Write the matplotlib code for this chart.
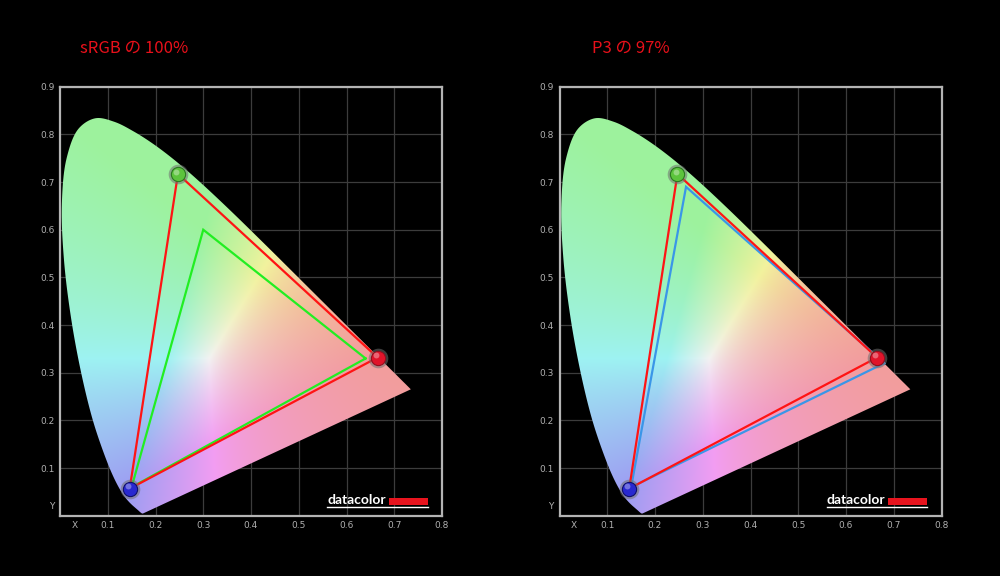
import numpy as np
import matplotlib
matplotlib.use('Agg')
import matplotlib.pyplot as plt
from matplotlib.patches import Polygon, Rectangle

plt.rcParams['font.family'] = ['Noto Sans CJK JP', 'DejaVu Sans']

# CIE 1931 2-degree spectral locus, 380-700 nm in 5 nm steps
locus_x = [0.1741, 0.1740, 0.1738, 0.1736, 0.1733, 0.1730, 0.1726, 0.1721, 0.1714, 0.1703,
           0.1689, 0.1669, 0.1644, 0.1611, 0.1566, 0.1510, 0.1440, 0.1355, 0.1241, 0.1096,
           0.0913, 0.0687, 0.0454, 0.0235, 0.0082, 0.0039, 0.0139, 0.0389, 0.0743, 0.1142,
           0.1547, 0.1929, 0.2296, 0.2658, 0.3016, 0.3373, 0.3731, 0.4087, 0.4441, 0.4788,
           0.5125, 0.5448, 0.5752, 0.6029, 0.6270, 0.6482, 0.6658, 0.6801, 0.6915, 0.7006,
           0.7079, 0.7140, 0.7190, 0.7230, 0.7260, 0.7283, 0.7300, 0.7311, 0.7320, 0.7327,
           0.7334, 0.7340, 0.7344, 0.7346, 0.7347]
locus_y = [0.0050, 0.0050, 0.0049, 0.0049, 0.0048, 0.0048, 0.0048, 0.0048, 0.0051, 0.0058,
           0.0069, 0.0086, 0.0109, 0.0138, 0.0177, 0.0227, 0.0297, 0.0399, 0.0578, 0.0868,
           0.1327, 0.2007, 0.2950, 0.4127, 0.5384, 0.6548, 0.7502, 0.8120, 0.8338, 0.8262,
           0.8059, 0.7816, 0.7543, 0.7243, 0.6923, 0.6589, 0.6245, 0.5896, 0.5547, 0.5202,
           0.4866, 0.4544, 0.4242, 0.3965, 0.3725, 0.3514, 0.3340, 0.3197, 0.3083, 0.2993,
           0.2920, 0.2859, 0.2809, 0.2770, 0.2740, 0.2717, 0.2700, 0.2689, 0.2680, 0.2673,
           0.2666, 0.2660, 0.2656, 0.2654, 0.2653]

# measured display gamut (R, G, B)
meas_x = [0.665, 0.247, 0.146]
meas_y = [0.332, 0.717, 0.057]
# reference gamuts (R, G, B)
srgb_x = [0.640, 0.300, 0.150]
srgb_y = [0.330, 0.600, 0.060]
p3_x = [0.680, 0.265, 0.150]
p3_y = [0.320, 0.690, 0.060]

titles = ['sRGB の 100%', 'P3 の 97%']
x_ticks = [0.1, 0.2, 0.3, 0.4, 0.5, 0.6, 0.7, 0.8]
x_labels = ['0.1', '0.2', '0.3', '0.4', '0.5', '0.6', '0.7', '0.8']
y_ticks = [0.1, 0.2, 0.3, 0.4, 0.5, 0.6, 0.7, 0.8, 0.9]
y_labels = ['0.1', '0.2', '0.3', '0.4', '0.5', '0.6', '0.7', '0.8', '0.9']


def smooth_outline(xs, ys, n=12, alpha=0.5):
    """Centripetal Catmull-Rom through the locus points (outline shape only)."""
    P = np.column_stack([xs, ys])
    P = np.vstack([2 * P[0] - P[1], P, 2 * P[-1] - P[-2]])
    out = []
    for i in range(1, len(P) - 2):
        p0, p1, p2, p3 = P[i - 1], P[i], P[i + 1], P[i + 2]
        t0 = 0.0
        t1 = t0 + max(np.linalg.norm(p1 - p0), 1e-6) ** alpha
        t2 = t1 + max(np.linalg.norm(p2 - p1), 1e-6) ** alpha
        t3 = t2 + max(np.linalg.norm(p3 - p2), 1e-6) ** alpha
        t = np.linspace(t1, t2, n, endpoint=False)[:, None]
        a1 = (t1 - t) / (t1 - t0) * p0 + (t - t0) / (t1 - t0) * p1
        a2 = (t2 - t) / (t2 - t1) * p1 + (t - t1) / (t2 - t1) * p2
        a3 = (t3 - t) / (t3 - t2) * p2 + (t - t2) / (t3 - t2) * p3
        b1 = (t2 - t) / (t2 - t0) * a1 + (t - t0) / (t2 - t0) * a2
        b2 = (t3 - t) / (t3 - t1) * a2 + (t - t1) / (t3 - t1) * a3
        c = (t2 - t) / (t2 - t1) * b1 + (t - t1) / (t2 - t1) * b2
        out.append(c)
    out.append(P[-2][None, :])
    return np.vstack(out)


def chroma_image(n=500, w=0.38, bright=0.95):
    xs = np.linspace(0, 0.8, n)
    ys = np.linspace(0.001, 0.9, n)
    X, Y = np.meshgrid(xs, ys)
    Xc = X / Y
    Zc = (1 - X - Y) / Y
    M = np.array([[3.2406, -1.5372, -0.4986],
                  [-0.9689, 1.8758, 0.0415],
                  [0.0557, -0.2040, 1.0570]])
    xyz = np.stack([Xc, np.ones_like(Xc), Zc], -1)
    rgb = xyz @ M.T
    rgb = np.clip(rgb, 0, None)
    rgb /= rgb.max(-1, keepdims=True) + 1e-9
    rgb = w + (1 - w) * rgb
    rgb = np.where(rgb <= 0.0031308, 12.92 * rgb, 1.055 * rgb ** (1 / 2.4) - 0.055)
    rgb = rgb * bright
    return np.clip(rgb, 0, 1)


def marker(ax, x, y, color, dark):
    ax.scatter([x], [y], s=200, color='#707070', alpha=0.55, zorder=6, linewidths=0)
    ax.scatter([x], [y], s=105, color=color, edgecolors=dark, linewidths=0.8, zorder=7)
    ax.scatter([x - 0.004], [y + 0.005], s=18, color='white', alpha=0.35, zorder=8, linewidths=0)


fig = plt.figure(figsize=(10, 5.76), dpi=100, facecolor='black')
img = chroma_image()
outline = smooth_outline(locus_x, locus_y)
axes_lefts = [0.060, 0.5595]
title_x = [0.080, 0.592]

for i, left in enumerate(axes_lefts):
    ax = fig.add_axes([left, 0.1045, 0.382, 0.745])
    ax.set_facecolor('black')
    ax.set_xlim(0, 0.8)
    ax.set_ylim(0, 0.9)
    ax.set_axisbelow(True)
    ax.set_xticks(x_ticks)
    ax.set_xticklabels(x_labels)
    ax.set_yticks(y_ticks)
    ax.set_yticklabels(y_labels)
    ax.set_xticks([0.03], minor=True)
    ax.set_xticklabels(['X'], minor=True)
    ax.set_yticks([0.022], minor=True)
    ax.set_yticklabels(['Y'], minor=True)
    ax.grid(True, which='major', color='#3c3c3c', linewidth=0.9)
    ax.tick_params(which='both', length=0, labelsize=6.5, labelcolor='#b0b0b0', pad=4)
    for lab in ax.get_xticklabels(which='both') + ax.get_yticklabels(which='both'):
        lab.set_family('DejaVu Sans')
    for sp in ax.spines.values():
        sp.set_color('#b4b4b4')
        sp.set_linewidth(1.6)

    poly = Polygon(outline, closed=True, facecolor='none',
                   edgecolor='none', transform=ax.transData)
    ax.add_patch(poly)
    im = ax.imshow(img, extent=[0, 0.8, 0.001, 0.9], origin='lower', aspect='auto',
                   interpolation='bilinear', zorder=1)
    im.set_clip_path(poly)

    if i == 0:
        ax.plot(srgb_x + srgb_x[:1], srgb_y + srgb_y[:1], color='#22ee22', lw=1.6, zorder=4,
                solid_joinstyle='miter')
    else:
        ax.plot(p3_x + p3_x[:1], p3_y + p3_y[:1], color='#3a96e8', lw=1.6, zorder=4,
                solid_joinstyle='miter')
    ax.plot(meas_x + meas_x[:1], meas_y + meas_y[:1], color='#ff1414', lw=1.6, zorder=5,
            solid_joinstyle='miter')

    marker(ax, meas_x[0], meas_y[0], '#e0142a', '#901020')
    marker(ax, meas_x[1], meas_y[1], '#5cc43c', '#2c7a20')
    marker(ax, meas_x[2], meas_y[2], '#2828d0', '#10106a')

    # datacolor logo
    ax.text(0.699, 0.028, 'datacolor', transform=ax.transAxes, fontsize=10,
            fontweight='bold', color='white', ha='left', va='baseline', family='Lato', zorder=9)
    ax.add_patch(Rectangle((0.861, 0.025), 0.102, 0.016, transform=ax.transAxes,
                           facecolor='#e8141e', edgecolor='none', zorder=9))
    ax.plot([0.699, 0.963], [0.0195, 0.0195], transform=ax.transAxes, color='white',
            lw=1.0, zorder=9)

    fig.text(title_x[i], 1 - 48 / 576, titles[i], color='#e8101a', fontsize=12,
             ha='left', va='center')

fig.savefig('out.png', dpi=100, facecolor='black')
